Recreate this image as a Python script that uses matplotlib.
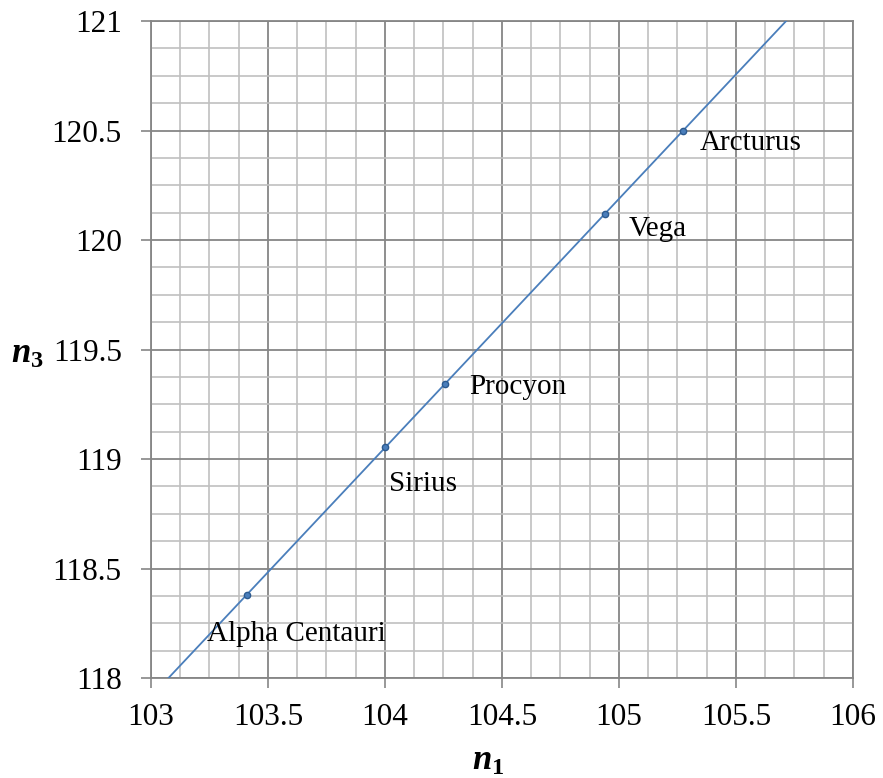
import numpy as np
import matplotlib
matplotlib.use("Agg")
import matplotlib.pyplot as plt
from matplotlib.ticker import MultipleLocator

stars = ["Alpha Centauri", "Sirius", "Procyon", "Vega", "Arcturus"]
n1 = [103.41, 104.00, 104.255, 104.94, 105.275]
n3 = [118.38, 119.053, 119.342, 120.12, 120.50]

# label offsets (points) for each annotation
offsets = [(-29, -28), (3, -26), (18, -2), (17, -11), (12, -9)]

plt.rcParams['font.family'] = ['Liberation Serif', 'DejaVu Serif']
plt.rcParams['mathtext.fontset'] = 'custom'
plt.rcParams['mathtext.it'] = 'Liberation Serif:italic:bold'
plt.rcParams['mathtext.rm'] = 'Liberation Serif:bold'
plt.rcParams['mathtext.bf'] = 'Liberation Serif:bold'

fig = plt.figure(figsize=(8.83, 7.78), dpi=100)
ax = fig.add_axes([0.171, 0.1285, 0.795, 0.8445])

ax.set_xlim(103, 106)
ax.set_ylim(118, 121)
ax.xaxis.set_major_locator(MultipleLocator(0.5))
ax.yaxis.set_major_locator(MultipleLocator(0.5))
ax.xaxis.set_minor_locator(MultipleLocator(0.125))
ax.yaxis.set_minor_locator(MultipleLocator(0.125))
ax.grid(which='minor', color='#c0c0c0', linewidth=1.2, zorder=0)
ax.grid(which='major', color='#868686', linewidth=1.3, zorder=0)
ax.set_axisbelow(True)

for s in ['left', 'bottom', 'top', 'right']:
    ax.spines[s].set_color('#868686')
    ax.spines[s].set_linewidth(1.3)

ax.tick_params(which='major', length=7, width=1.2, color='#868686',
               labelsize=22.5, pad=11)
ax.tick_params(axis='y', which='major', pad=14)
ax.tick_params(which='minor', length=0)

def fmt(v, pos):
    return ('%g' % v)
ax.xaxis.set_major_formatter(matplotlib.ticker.FuncFormatter(fmt))
ax.yaxis.set_major_formatter(matplotlib.ticker.FuncFormatter(fmt))

# linear trendline
coef = np.polyfit(n1, n3, 1)
xs = np.array([103.0, 106.0])
ax.plot(xs, np.polyval(coef, xs), color='#4A7EBB', linewidth=1.3, zorder=3)
ax.plot(n1, n3, 'o', markersize=4.5, color='#4A7EBB', markeredgecolor='#2C5A8F',
        markeredgewidth=1.0, zorder=4)

for name, x, y, off in zip(stars, n1, n3, offsets):
    ax.annotate(name, (x, y), xytext=off, textcoords='offset points',
                fontsize=21, va='center', ha='left', zorder=5)

fig.text(0.553, 0.021, r'$n_{\mathrm{1}}$', fontsize=25, ha='center', va='center')
fig.text(0.031, 0.545, r'$n_{\mathrm{3}}$', fontsize=25, ha='center', va='center')

fig.savefig('out.png', dpi=100)
